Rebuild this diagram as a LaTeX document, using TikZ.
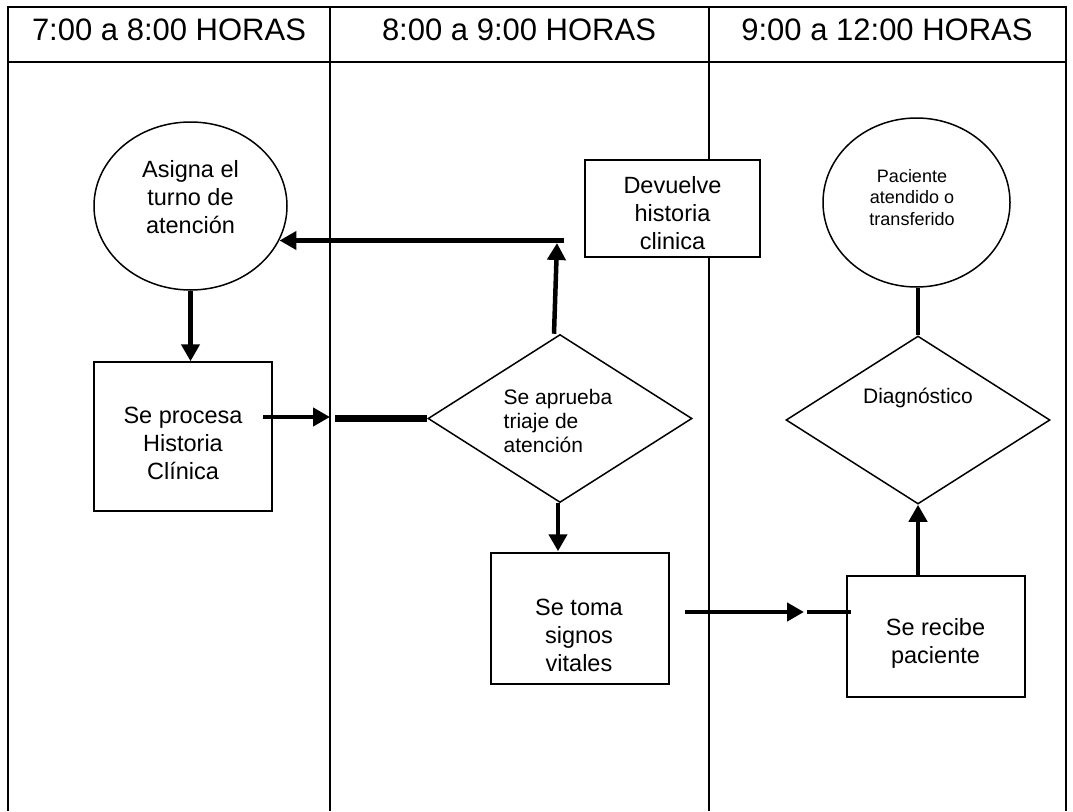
\documentclass[tikz,border=0pt]{standalone}
\usepackage{fontspec}
\setmainfont{Liberation Sans}
\usetikzlibrary{shapes.geometric,arrows.meta,calc}
\begin{document}
\begin{tikzpicture}[x=1pt,y=-1pt,
  grid/.style={line width=1.8pt},
  outline/.style={draw,line width=1.5pt,fill=white,inner sep=0pt},
  proc/.style={outline,rectangle},
  term/.style={outline,ellipse},
  decision/.style={outline,diamond},
  flow/.style={line width=4.5pt,-{Triangle[length=17pt,width=18pt]}},
  link/.style={line width=4.5pt},
  head/.style={font=\fontsize{31}{36}\selectfont,inner sep=0pt},
  big/.style={align=center,font=\fontsize{23.5}{28}\selectfont,inner sep=0pt},
  mid/.style={align=left,font=\fontsize{21}{24}\selectfont,inner sep=0pt},
  small/.style={align=center,font=\fontsize{18}{21.5}\selectfont,inner sep=0pt}
]
\useasboundingbox (0,0) rectangle (1073,811);
\fill[white] (0,0) rectangle (1073,811);

% swimlane table
\draw[grid] (8,811) -- (8,7) -- (1066,7) -- (1066,811);
\draw[grid] (8,62) -- (1066,62);
\draw[grid] (330,7) -- (330,811);
\draw[grid] (709,7) -- (709,811);

\node[head] (h1) at (169,30) {7:00 a 8:00 HORAS};
\node[head] (h2) at (519,30) {8:00 a 9:00 HORAS};
\node[head] (h3) at (887,30) {9:00 a 12:00 HORAS};

% shapes
\node[term, minimum width=193pt, minimum height=168pt] (asigna) at (190.5,206) {};
\node[big] (asignaT) at (190.5,197) {Asigna el\\turno de\\atención};

\node[proc, minimum width=178pt, minimum height=149pt] (procesa) at (183,436.5) {};
\node[big] (procesaT) at (183,443) {Se procesa\\Historia\\Clínica};

\node[decision, minimum width=264pt, minimum height=168pt] (aprueba) at (560,418.5) {};
\node[mid] (apruebaT) at (558,421) {Se aprueba\\triaje de\\atención};

\node[proc, minimum width=175pt, minimum height=97pt] (devuelve) at (672.5,208.5) {};
\node[big] (devuelveT) at (672.5,213) {Devuelve\\historia\\clinica};

\node[proc, minimum width=178pt, minimum height=131pt] (toma) at (580,618.5) {};
\node[big] (tomaT) at (579,635) {Se toma\\signos\\vitales};

\node[proc, minimum width=178pt, minimum height=121pt] (recibe) at (936,636.5) {};
\node[big] (recibeT) at (935.5,643.5) {Se recibe\\paciente};

\node[decision, minimum width=264pt, minimum height=168pt] (diagno) at (918,420) {};
\node[mid, align=center] (diagnoT) at (918,398) {Diagnóstico};

\node[term, minimum width=187pt, minimum height=169pt] (paciente) at (916.5,202.5) {};
\node[small] (pacienteT) at (912,197.5) {Paciente\\atendido o\\transferido};

% connectors
\draw[flow] (asigna.south) -- (asigna.south |- procesa.north);

\coordinate (p1) at (263,417);
\coordinate (p2) at (330,417);
\coordinate (p3) at (335,418.5);
\draw[flow] (p1) -- (p2);
\draw[line width=6.5pt] (p3) -- (aprueba.west);

\coordinate (u0) at ($(aprueba.north)+(-6,0)$);
\coordinate (u1) at (557,243);
\coordinate (u2) at (564,240.5);
\draw[flow] (u0) -- (u1);
\draw[flow] (u2) -- (u2 -| asigna.-21);

\draw[flow] ($(aprueba.south)+(-2,0)$) -- ($(aprueba.south |- toma.north)+(-2,-1)$);

\coordinate (t1) at (685,612);
\coordinate (t2) at (804,612);
\coordinate (t3) at (807,612);
\draw[flow] (t1) -- (t2);
\draw[link] (t3) -- ([xshift=5pt]recibe.west |- t3);

\draw[flow] (diagno.south |- recibe.north) -- (diagno.south);
\draw[link] (diagno.north) -- (diagno.north |- paciente.south);
\end{tikzpicture}
\end{document}
